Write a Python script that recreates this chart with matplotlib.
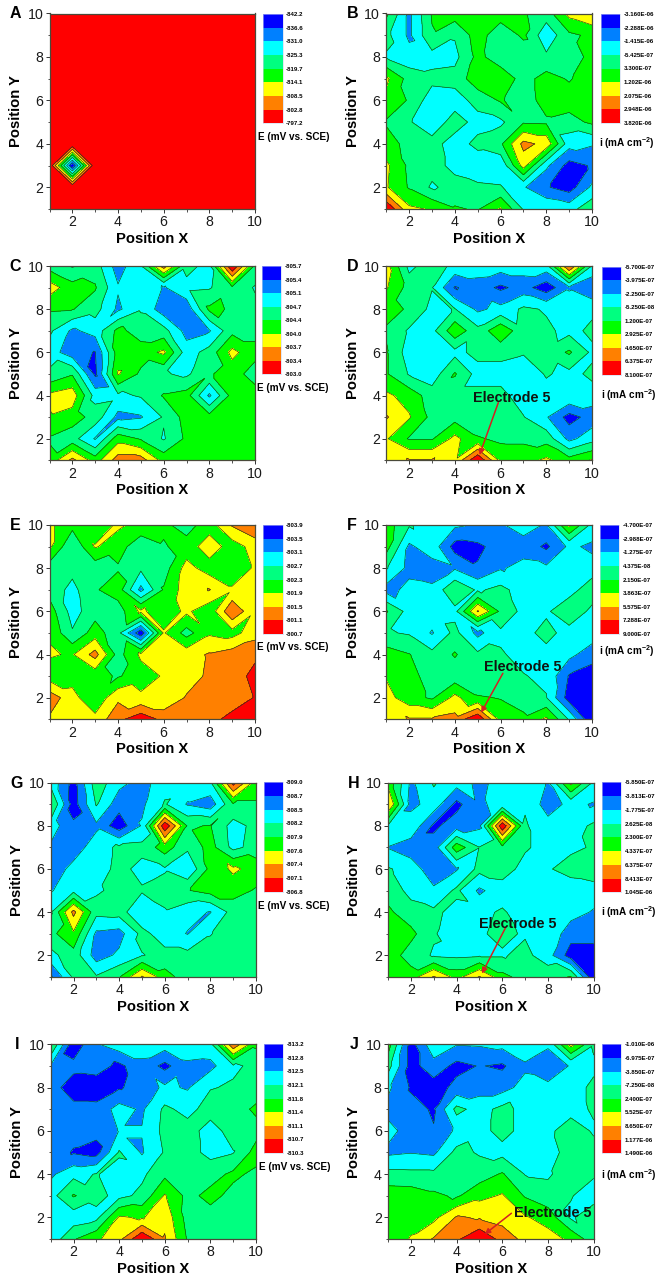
import numpy as np
import matplotlib
matplotlib.use("Agg")
import matplotlib.pyplot as plt
import matplotlib.tri as mtri
from matplotlib.colors import ListedColormap
from matplotlib.ticker import MultipleLocator

plt.rcParams['font.family'] = ['Liberation Sans', 'DejaVu Sans']
plt.rcParams['mathtext.fontset'] = 'custom'
plt.rcParams['mathtext.rm'] = 'Liberation Sans'
plt.rcParams['mathtext.bf'] = 'Liberation Sans:bold'

# Values are read as a position on each panel's colour scale
# (0 = first legend label, 8 = last legend label). Rows run y = 10 down to y = 1, columns x = 1..10.
positions_x = [1, 2, 3, 4, 5, 6, 7, 8, 9, 10]
positions_y = [10, 9, 8, 7, 6, 5, 4, 3, 2, 1]

grid_a = [[8.0] * 10, [8.0] * 10, [8.0] * 10, [8.0] * 10, [8.0] * 10, [8.0] * 10, [8.0] * 10,
          [8.0, 0.0, 8.0, 8.0, 8.0, 8.0, 8.0, 8.0, 8.0, 8.0], [8.0] * 10, [8.0] * 10]
grid_b = [[4.2, 1.8, 4.1, 4.5, 4.5, 4.5, 4.1, 3.5, 5.3, 5.9],
          [3.3, 1.8, 3.9, 3.1, 4.5, 3.3, 4.2, 2.3, 3.8, 4.2],
          [2.9, 2.4, 2.6, 2.7, 4.3, 3.4, 3.3, 3.2, 3.3, 4.4],
          [5.2, 3.6, 3.3, 3.4, 4.6, 4.7, 3.6, 4.4, 3.9, 4.6],
          [4.7, 3.9, 2.4, 2.5, 3.4, 4.1, 3.5, 4.4, 4.5, 4.5],
          [3.9, 3.1, 2.3, 3.5, 2.6, 2.8, 3.9, 3.85, 3.6, 4.2],
          [4.4, 3.7, 3.4, 2.5, 3.3, 3.8, 6.3, 5.7, 2.4, 2.1],
          [5.2, 3.8, 3.4, 2.7, 2.3, 2.2, 5.4, 2.2, 0.6, 1.1],
          [5.1, 3.9, 2.85, 3.4, 3.2, 3.1, 2.1, 1.1, 0.5, 2.2],
          [8.0, 5.2, 4.9, 4.1, 3.9, 5.1, 2.9, 2.9, 2.6, 3.7]]
grid_c = [[3.6, 2.9, 3.5, 1.5, 2.9, 6.5, 3.2, 2.8, 8.0, 3.8],
          [5.5, 4.4, 4.1, 2.1, 2.8, 1.9, 2.8, 2.9, 3.8, 2.9],
          [4.1, 4.05, 3.4, 1.8, 2.9, 1.4, 1.3, 4.2, 3.9, 3.3],
          [3.2, 1.8, 2.4, 4.3, 3.5, 3.4, 1.6, 1.9, 3.7, 3.7],
          [2.5, 1.4, 0.95, 4.5, 4.5, 5.2, 2.5, 3.4, 5.3, 4.3],
          [3.2, 3.9, 0.8, 5.1, 3.8, 3.1, 2.8, 3.9, 4.4, 3.6],
          [5.2, 5.6, 2.6, 2.8, 3.1, 4.1, 4.4, 1.8, 4.4, 4.4],
          [4.9, 4.5, 3.6, 1.7, 1.9, 3.1, 4.4, 4.4, 4.4, 4.4],
          [3.9, 3.4, 1.9, 4.6, 3.9, 2.9, 4.2, 4.4, 4.4, 4.4],
          [4.3, 6.3, 4.5, 6.5, 6.5, 4.6, 4.3, 4.4, 4.4, 4.4]]
grid_d = [[5.4, 2.7, 3.6, 2.7, 2.6, 2.5, 2.5, 2.6, 7.1, 2.9],
          [5.1, 3.6, 3.05, 0.9, 1.5, 0.8, 1.4, 0.4, 1.9, 1.1],
          [4.3, 3.9, 2.7, 3.05, 1.8, 2.3, 3.2, 2.9, 2.5, 2.8],
          [3.9, 2.85, 2.7, 4.7, 3.3, 4.8, 3.3, 3.2, 2.7, 3.2],
          [4.1, 2.5, 2.4, 2.7, 3.3, 3.3, 3.1, 3.3, 4.15, 2.8],
          [4.1, 2.9, 2.4, 4.1, 2.6, 2.6, 2.3, 3.1, 2.7, 3.2],
          [5.2, 4.6, 3.5, 3.3, 3.3, 3.3, 2.5, 2.6, 2.9, 2.6],
          [6.1, 5.1, 3.7, 3.6, 3.3, 3.3, 3.05, 2.1, 0.6, 1.4],
          [5.1, 3.9, 3.9, 5.3, 4.1, 3.8, 3.8, 3.6, 1.7, 2.6],
          [5.2, 6.1, 6.1, 5.1, 8.0, 4.7, 4.6, 5.2, 4.4, 5.1]]
grid_e = [[5.2, 4.3, 4.2, 5.2, 4.6, 4.2, 3.6, 4.5, 6.1, 6.9],
          [5.2, 3.1, 5.1, 4.4, 3.4, 3.9, 4.4, 5.6, 4.5, 5.4],
          [3.5, 3.3, 3.4, 3.9, 3.2, 3.5, 5.4, 4.5, 4.5, 5.1],
          [3.6, 2.7, 3.9, 4.5, 1.7, 4.1, 5.5, 6.05, 5.1, 5.4],
          [4.5, 2.6, 3.6, 3.5, 5.2, 4.4, 5.2, 4.3, 6.9, 5.1],
          [4.9, 3.1, 4.5, 3.3, 0.3, 5.1, 3.6, 4.85, 4.6, 5.6],
          [5.1, 4.9, 6.4, 3.6, 5.2, 5.4, 5.6, 6.1, 6.5, 6.8],
          [4.5, 4.6, 4.3, 3.9, 4.5, 5.1, 5.5, 6.2, 6.5, 7.3],
          [6.6, 5.35, 4.2, 5.8, 5.2, 5.1, 6.1, 6.4, 6.5, 7.05],
          [5.85, 5.4, 5.3, 6.7, 7.7, 6.7, 6.6, 6.7, 7.3, 7.95]]
grid_f = [[4.5, 3.1, 2.5, 2.2, 1.9, 1.9, 2.4, 1.9, 5.2, 2.7],
          [4.4, 1.8, 2.6, 0.6, 0.8, 1.4, 1.6, 0.8, 2.2, 1.8],
          [3.1, 1.7, 1.5, 1.9, 1.1, 1.9, 2.3, 2.2, 2.3, 2.4],
          [1.6, 2.3, 2.2, 3.9, 2.85, 3.3, 2.5, 2.5, 2.5, 3.7],
          [4.1, 2.6, 2.6, 2.7, 6.1, 3.8, 2.7, 2.8, 3.9, 2.7],
          [3.1, 2.9, 1.9, 3.3, 1.7, 2.8, 2.6, 3.4, 2.5, 2.6],
          [4.5, 4.05, 3.3, 4.1, 3.2, 3.1, 2.7, 2.6, 2.3, 1.4],
          [4.9, 4.4, 3.5, 3.4, 3.2, 3.3, 3.05, 2.8, 0.9, 0.5],
          [5.4, 4.4, 3.85, 5.3, 4.1, 3.95, 3.6, 3.05, 0.5, 0.3],
          [5.3, 6.1, 6.1, 6.3, 7.95, 4.6, 4.2, 5.2, 2.9, 0.1]]
grid_g = [[2.7, 0.6, 3.6, 2.3, 1.6, 2.6, 2.7, 2.9, 7.4, 4.5],
          [4.1, 0.5, 3.1, 1.4, 1.8, 3.1, 1.9, 1.4, 3.9, 3.9],
          [2.5, 1.2, 1.8, 0.4, 2.1, 7.8, 3.9, 4.05, 2.6, 3.3],
          [1.85, 1.5, 2.5, 3.2, 3.3, 4.5, 3.2, 4.4, 2.7, 3.4],
          [1.4, 2.3, 2.5, 3.3, 2.7, 2.9, 2.1, 4.3, 5.2, 4.6],
          [1.9, 2.7, 2.9, 3.2, 3.1, 3.4, 3.95, 4.4, 4.4, 3.9],
          [2.85, 6.3, 3.3, 3.4, 2.2, 2.9, 2.3, 1.95, 3.4, 3.5],
          [3.7, 4.85, 1.8, 1.6, 3.3, 2.5, 1.95, 2.95, 3.5, 3.5],
          [2.7, 3.6, 1.5, 2.2, 2.95, 3.3, 3.3, 3.4, 3.5, 3.5],
          [0.8, 3.2, 3.1, 3.9, 6.1, 4.4, 3.5, 3.5, 3.5, 3.5]]
grid_h = [[4.7, 1.8, 3.1, 2.4, 1.8, 2.3, 2.6, 1.9, 5.3, 2.8],
          [6.1, 1.6, 2.6, 0.7, 1.9, 2.2, 2.9, 1.5, 2.3, 1.9],
          [2.9, 2.8, 0.8, 1.5, 1.8, 7.8, 3.1, 2.4, 2.5, 3.2],
          [1.95, 1.4, 1.4, 4.6, 3.03, 3.7, 3.1, 2.7, 2.8, 3.1],
          [3.1, 2.6, 1.3, 1.9, 3.3, 3.4, 2.7, 2.9, 3.4, 3.7],
          [3.6, 2.7, 2.2, 3.2, 1.8, 2.6, 2.5, 2.5, 2.4, 2.5],
          [4.2, 3.4, 3.2, 2.7, 2.8, 3.1, 2.6, 2.8, 2.4, 1.9],
          [4.9, 4.3, 3.1, 2.4, 2.9, 3.2, 2.9, 2.8, 1.4, 1.4],
          [4.6, 3.5, 2.9, 2.8, 2.9, 2.9, 3.3, 2.4, 0.5, 0.5],
          [4.5, 4.5, 6.1, 4.6, 6.1, 4.3, 3.6, 3.7, 4.05, 0.2]]
grid_i = [[4.1, 0.3, 1.9, 2.6, 2.6, 2.5, 2.6, 2.7, 6.8, 4.2],
          [1.9, 1.3, 1.45, 0.75, 1.7, 0.7, 1.8, 1.7, 2.85, 3.2],
          [1.4, 0.5, 0.4, 0.9, 1.4, 2.2, 1.9, 2.95, 3.1, 3.4],
          [1.6, 1.3, 1.3, 2.4, 1.85, 3.2, 2.7, 3.4, 3.5, 4.2],
          [1.6, 1.4, 1.3, 2.05, 2.05, 3.3, 3.4, 2.6, 3.4, 3.6],
          [1.6, 0.9, 0.6, 3.1, 1.9, 3.1, 3.4, 2.7, 2.95, 4.4],
          [1.8, 2.7, 3.05, 2.7, 2.8, 3.75, 3.5, 3.6, 4.2, 3.8],
          [2.6, 4.1, 3.3, 2.7, 3.25, 5.1, 3.7, 4.3, 3.7, 3.6],
          [2.4, 2.4, 2.7, 5.1, 4.9, 5.7, 3.6, 3.6, 3.6, 3.6],
          [2.3, 3.9, 4.8, 5.7, 7.95, 6.1, 3.9, 3.6, 3.6, 3.6]]
grid_j = [[4.5, 0.6, 2.7, 2.05, 2.1, 2.3, 2.9, 2.2, 5.4, 3.1],
          [3.4, 0.6, 1.6, 0.7, 1.05, 0.85, 1.8, 1.2, 2.1, 2.9],
          [2.2, 0.9, 0.5, 1.3, 1.6, 1.6, 2.4, 2.3, 2.8, 3.1],
          [1.7, 1.3, 0.9, 3.3, 2.6, 3.3, 2.7, 2.8, 2.7, 3.1],
          [2.3, 1.6, 1.05, 2.2, 2.7, 3.3, 2.7, 2.8, 3.45, 2.9],
          [1.8, 1.95, 1.8, 3.3, 2.9, 2.7, 2.5, 2.5, 3.5, 3.3],
          [3.3, 3.25, 3.25, 3.6, 3.5, 4.1, 2.95, 2.9, 3.4, 3.1],
          [4.6, 4.55, 4.2, 3.85, 4.7, 5.1, 3.9, 3.3, 3.05, 2.6],
          [4.4, 4.5, 4.7, 6.1, 5.9, 5.6, 5.1, 4.6, 2.85, 3.6],
          [4.1, 5.1, 6.1, 6.8, 7.95, 6.6, 5.7, 5.4, 4.8, 3.4]]

scale_a = ['-842.2', '-836.6', '-831.0', '-825.3', '-819.7', '-814.1', '-808.5', '-802.8', '-797.2']
scale_b = ['-3.160E-06', '-2.288E-06', '-1.415E-06', '-5.425E-07', '3.300E-07', '1.202E-06', '2.075E-06', '2.948E-06', '3.820E-06']
scale_c = ['-805.7', '-805.4', '-805.1', '-804.7', '-804.4', '-804.0', '-803.7', '-803.4', '-803.0']
scale_d = ['-5.700E-07', '-3.975E-07', '-2.250E-07', '-5.250E-08', '1.200E-07', '2.925E-07', '4.650E-07', '6.375E-07', '8.100E-07']
scale_e = ['-803.9', '-803.5', '-803.1', '-802.7', '-802.3', '-801.9', '-801.5', '-801.1', '-800.7']
scale_f = ['-4.700E-07', '-2.988E-07', '-1.275E-07', '4.375E-08', '2.150E-07', '3.863E-07', '5.575E-07', '7.288E-07', '9.000E-07']
scale_g = ['-809.0', '-808.7', '-808.5', '-808.2', '-807.9', '-807.6', '-807.4', '-807.1', '-806.8']
scale_h = ['-5.850E-07', '-3.813E-07', '-1.775E-07', '2.625E-08', '2.300E-07', '4.337E-07', '6.375E-07', '8.413E-07', '1.045E-06']
scale_i = ['-813.2', '-812.8', '-812.5', '-812.1', '-811.8', '-811.4', '-811.1', '-810.7', '-810.3']
scale_j = ['-1.010E-06', '-6.975E-07', '-3.850E-07', '-7.250E-08', '2.400E-07', '5.525E-07', '8.650E-07', '1.177E-06', '1.490E-06']

band_colors = ['#0000ff', '#0080ff', '#00ffff', '#00ff80', '#00ff00', '#ffff00', '#ff8000', '#ff0000']
unit_e = 'E (mV vs. SCE)'
unit_i = r'i (mA cm$^{\mathbf{-2}}$)'

W, H = 666, 1284
fig = plt.figure(figsize=(W / 100, H / 100), dpi=100, facecolor='white')
cmap = ListedColormap(band_colors)
levels = np.arange(9)
fill_levels = [-0.01, 1, 2, 3, 4, 5, 6, 7, 8.01]


def pixel_axes(x0, y0, x1, y1):
    return fig.add_axes([x0 / W, 1 - y1 / H, (x1 - x0) / W, (y1 - y0) / H])


def triangulate(z):
    """Grid triangulation: each cell is split along its flatter diagonal."""
    ny, nx = z.shape
    tris = []
    idx = lambda i, j: i * nx + j
    for i in range(ny - 1):
        for j in range(nx - 1):
            a, b, c, d = idx(i, j), idx(i, j + 1), idx(i + 1, j + 1), idx(i + 1, j)
            if abs(z[i, j] - z[i + 1, j + 1]) <= abs(z[i, j + 1] - z[i + 1, j]):
                tris += [[a, b, c], [a, c, d]]
            else:
                tris += [[a, b, d], [b, c, d]]
    return tris


panels = [
    ('A', grid_a, scale_a, unit_e, (49.5, 13.5, 255, 209), (263.3, 14, 282.7, 123.3), (257.7, 137), None),
    ('B', grid_b, scale_b, unit_i, (386.3, 13.5, 592, 209), (601.3, 14, 620.3, 123), (598.7, 143), None),
    ('C', grid_c, scale_c, unit_e, (49.5, 266, 255, 460.3), (262, 266, 281, 374.3), (257, 387.7), None),
    ('D', grid_d, scale_d, unit_i, (386.3, 266, 592, 460.3), (602, 266.7, 621, 375), (600.7, 395),
     ((6.5, 3.9), (5.9, 3.67), (5.08, 1.25))),
    ('E', grid_e, scale_e, unit_e, (49.5, 525, 255, 719.3), (263.3, 525, 282.7, 634), (257.3, 647), None),
    ('F', grid_f, scale_f, unit_i, (386.3, 525, 592, 719.3), (600.3, 525, 619, 634), (598.7, 650.7),
     ((6.98, 3.41), (6.1, 3.13), (5.15, 1.31))),
    ('G', grid_g, scale_g, unit_e, (50.7, 782.7, 256, 976.7), (263.7, 782.3, 282.7, 891.7), (258.3, 905.7), None),
    ('H', grid_h, scale_h, unit_i, (388, 782.7, 593.7, 977), (602.3, 782.3, 621.3, 892.3), (601.3, 911.7),
     ((6.69, 3.47), (6.15, 3.3), (5.11, 1.16))),
    ('I', grid_i, scale_i, unit_e, (50.7, 1044.3, 256, 1239), (264.3, 1044.3, 283.3, 1153), (259, 1166.7), None),
    ('J', grid_j, scale_j, unit_i, (388, 1044.3, 593.7, 1239), (602, 1044.3, 621, 1153.3), (600.7, 1175),
     ((8.19, 2.22), (6.4, 2.19), (5.23, 1.22))),
]

X, Y = np.meshgrid(positions_x, positions_y)
for letter, grid, scale, unit, box, cbox, unit_xy, note in panels:
    z = np.array(grid, dtype=float)
    ax = pixel_axes(*box)
    tri = mtri.Triangulation(X.ravel(), Y.ravel(), triangulate(z))
    ax.tricontourf(tri, z.ravel(), levels=fill_levels, colors=band_colors)
    ax.tricontour(tri, z.ravel(), levels=list(levels[1:-1]), colors='#10401c', linewidths=0.45)
    ax.set_xlim(1, 10)
    ax.set_ylim(1, 10)
    ax.xaxis.set_major_locator(MultipleLocator(2))
    ax.yaxis.set_major_locator(MultipleLocator(2))
    ax.xaxis.set_minor_locator(MultipleLocator(1))
    ax.yaxis.set_minor_locator(MultipleLocator(1))
    ax.tick_params(which='major', length=3, width=0.7, color='#333333', labelsize=10.2, pad=1.5, labelcolor='#1a1a1a')
    ax.tick_params(which='minor', length=1.8, width=0.6, color='#333333')
    for s in ax.spines.values():
        s.set_linewidth(0.9)
        s.set_color('#4a4a3a')
    cx = (box[0] + box[2]) / 2
    fig.text(cx / W, 1 - (box[3] + 30) / H, 'Position X', ha='center', va='center', fontsize=10.6, fontweight='bold')
    fig.text((box[0] - 33.5) / W, 1 - (box[1] + box[3]) / 2 / H, 'Position Y', rotation=90, ha='center', va='center',
             fontsize=10.6, fontweight='bold')
    fig.text((box[0] - 34) / W, 1 - (box[1] + 0.5) / H, letter, ha='center', va='center', fontsize=11.5, fontweight='bold')

    cax = pixel_axes(*cbox)
    cax.pcolormesh([0, 1], levels, np.arange(8).reshape(-1, 1), cmap=cmap, vmin=0, vmax=8, shading='flat')
    cax.set_ylim(8, 0)
    cax.set_xticks([])
    cax.yaxis.tick_right()
    cax.set_yticks(levels)
    cax.set_yticklabels(scale, fontsize=4.4, fontweight='bold')
    cax.tick_params(length=0, pad=2.5)
    for s in cax.spines.values():
        s.set_linewidth(0.4)
        s.set_color('#c8d4ee')
    fig.text(unit_xy[0] / W, 1 - unit_xy[1] / H, unit, ha='left', va='center', fontsize=7.2, fontweight='bold')

    if note is not None:
        text_xy, start, end = note
        ax.annotate('', xy=end, xytext=start,
                    arrowprops=dict(arrowstyle='-|>,head_width=0.16,head_length=0.32', color='#d42020', lw=1.1,
                                    shrinkA=0, shrinkB=0))
        ax.text(text_xy[0], text_xy[1], 'Electrode 5', ha='center', va='center', fontsize=10.4,
                fontweight='bold', color='#101510', clip_on=False)

fig.savefig('out.png', dpi=100)
